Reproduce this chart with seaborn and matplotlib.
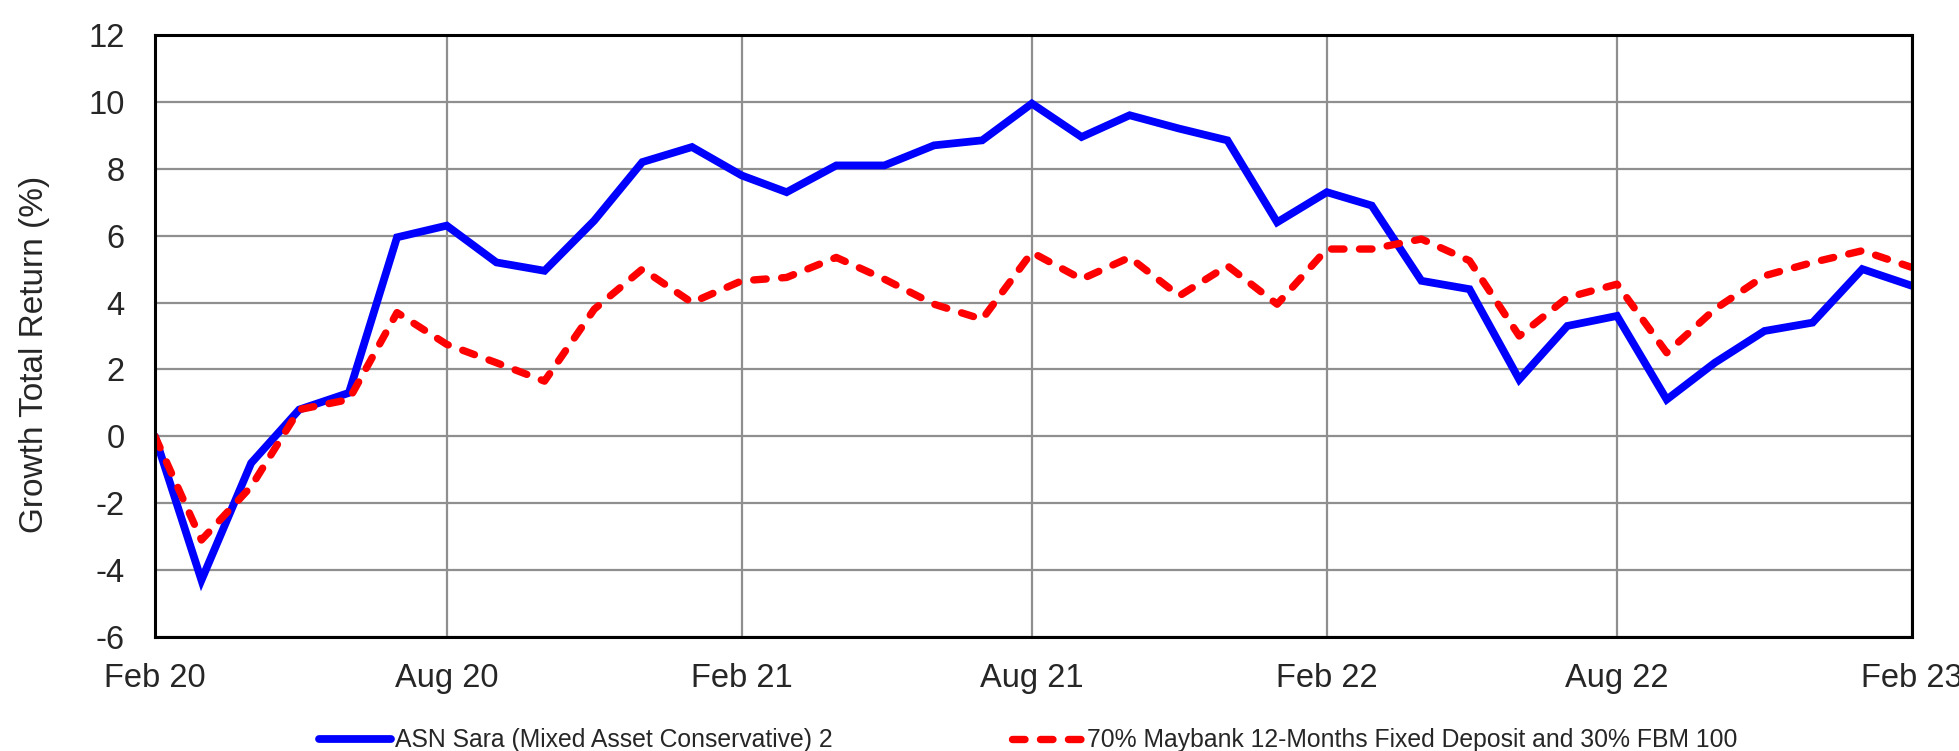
import pandas as pd
import seaborn as sns
import matplotlib.pyplot as plt
import matplotlib.dates as mdates

# monthly points, Feb 2020 .. Feb 2023
months = pd.date_range("2020-02-01", "2023-02-01", freq="MS")

fund_name = "ASN Sara (Mixed Asset Conservative) 2"
bench_name = "70% Maybank 12-Months Fixed Deposit and 30% FBM 100"

fund = [0.0, -4.3, -0.8, 0.8, 1.3, 5.95, 6.3, 5.2, 4.95, 6.45, 8.2, 8.65,
        7.8, 7.3, 8.1, 8.1, 8.7, 8.85, 9.95, 8.95, 9.6, 9.2, 8.85, 6.4,
        7.3, 6.9, 4.65, 4.4, 1.7, 3.3, 3.6, 1.1, 2.2, 3.15, 3.4, 5.0, 4.5]

bench = [0.0, -3.1, -1.5, 0.8, 1.1, 3.7, 2.75, 2.2, 1.65, 3.8, 5.0, 4.0,
         4.65, 4.75, 5.35, 4.7, 3.95, 3.5, 5.5, 4.7, 5.35, 4.2, 5.1, 3.95,
         5.6, 5.6, 5.9, 5.25, 3.0, 4.15, 4.55, 2.5, 3.8, 4.8, 5.2, 5.55, 5.05]

y_ticks = list(range(-6, 13, 2))
x_tick_dates = pd.date_range("2020-02-01", "2023-02-01", freq="6MS")

df = pd.DataFrame({"date": months, fund_name: fund, bench_name: bench})
long_df = df.melt(id_vars="date", var_name="series", value_name="ret")

sns.set_style("white")
plt.rcParams["font.family"] = ["Liberation Sans", "DejaVu Sans"]
plt.rcParams["axes.unicode_minus"] = False

fig, ax = plt.subplots(figsize=(19.59, 7.51), dpi=100)
fig.subplots_adjust(left=0.0791, right=0.976, bottom=0.1518, top=0.9534)

sns.lineplot(data=long_df, x="date", y="ret", hue="series", style="series",
             palette={fund_name: "#0000ff", bench_name: "#ff0000"},
             dashes={fund_name: "", bench_name: (1.7, 2.1)},
             linewidth=5.6, legend=False, ax=ax)
for line in ax.lines:
    line.set_dash_capstyle("round")
    line.set_solid_capstyle("round")
    line.set_solid_joinstyle("miter")
ax.lines[1].set_linewidth(5.3)

ax.set_xlim(months[0], months[-1])
ax.set_ylim(-6, 12)
ax.set_yticks(y_ticks)
ax.set_xticks(x_tick_dates)
ax.xaxis.set_major_formatter(mdates.DateFormatter("%b %y"))
ax.tick_params(axis="both", length=0, labelsize=23.5)
ax.tick_params(axis="x", pad=19)
ax.tick_params(axis="y", pad=22)

ax.grid(True, color="#8f8f8f", linewidth=1.6)
ax.set_axisbelow(True)
for side in ax.spines.values():
    side.set_visible(True)
    side.set_color("black")
    side.set_linewidth(2.2)

ax.set_xlabel("")
ax.set_ylabel("Growth Total Return (%)", fontsize=24)
ax.yaxis.set_label_coords(-0.0598, 0.47)

fig.legend(ax.lines, [fund_name, bench_name], loc="lower center",
           bbox_to_anchor=(0.525, -0.018), ncol=2, frameon=False,
           fontsize=17.8, handlelength=2.9, handletextpad=0.15,
           columnspacing=7.25, borderpad=0)

fig.savefig("out.png", dpi=100)
